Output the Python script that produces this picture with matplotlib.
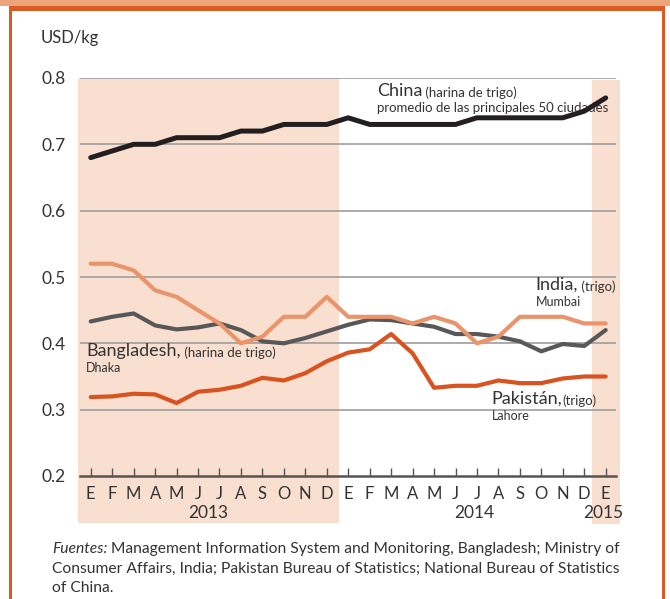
import matplotlib
matplotlib.use('Agg')
import matplotlib.pyplot as plt
from matplotlib.patches import Rectangle

plt.rcParams['font.family'] = ['Lato', 'DejaVu Sans']

# months 2013-01 .. 2015-01
months = ['E', 'F', 'M', 'A', 'M', 'J', 'J', 'A', 'S', 'O', 'N', 'D'] * 2 + ['E']
years = ['2013', '2014', '2015']

china = [0.68, 0.69, 0.70, 0.70, 0.71, 0.71, 0.71, 0.72, 0.72, 0.73, 0.73, 0.73,
         0.74, 0.73, 0.73, 0.73, 0.73, 0.73, 0.74, 0.74, 0.74, 0.74, 0.74, 0.75, 0.77]
india = [0.52, 0.52, 0.51, 0.48, 0.47, 0.45, 0.43, 0.40, 0.41, 0.44, 0.44, 0.47,
         0.44, 0.44, 0.44, 0.43, 0.44, 0.43, 0.40, 0.41, 0.44, 0.44, 0.44, 0.43, 0.43]
bangladesh = [0.433, 0.44, 0.445, 0.427, 0.421, 0.424, 0.43, 0.42, 0.403, 0.40, 0.408, 0.418,
              0.428, 0.436, 0.435, 0.43, 0.425, 0.414, 0.414, 0.41, 0.403, 0.388, 0.399, 0.396, 0.42]
pakistan = [0.319, 0.32, 0.324, 0.323, 0.31, 0.327, 0.33, 0.336, 0.348, 0.344, 0.355, 0.373,
            0.386, 0.391, 0.414, 0.385, 0.333, 0.336, 0.336, 0.344, 0.34, 0.34, 0.347, 0.35, 0.35]

TXT = '#333333'
SHADE = '#F9DFCF'

fig = plt.figure(figsize=(6.7, 5.99), dpi=100)
W, H = 670, 599

# orange frame
fig.patches.append(Rectangle((0, 1 - 6 / H), 1, 6 / H, transform=fig.transFigure,
                             facecolor='#EEA47B', lw=0))
fig.patches.append(Rectangle((9 / W, 1 - 11 / H), 656 / W, 5 / H, transform=fig.transFigure,
                             facecolor='#DC5A24', lw=0))
fig.patches.append(Rectangle((9 / W, 0), 3 / W, 1 - 6 / H, transform=fig.transFigure,
                             facecolor='#DC5A24', lw=0))
fig.patches.append(Rectangle((662 / W, 0), 3 / W, 1 - 6 / H, transform=fig.transFigure,
                             facecolor='#DC5A24', lw=0))

ax = fig.add_axes([80 / W, 1 - 476 / H, 536 / W, 398 / H])
ax.patch.set_alpha(0)
ax.set_xlim(-0.5, 24.48)
ax.set_ylim(0.2, 0.8)

# shaded periods (2013 and Jan 2015)
ax.add_patch(Rectangle((-0.6, 0.129), 12.17, 0.671, facecolor=SHADE, lw=0,
                       clip_on=False, zorder=0))
ax.add_patch(Rectangle((23.36, 0.127), 1.3, 0.67, facecolor=SHADE, lw=0,
                       clip_on=False, zorder=0))

for v in [0.3, 0.4, 0.5, 0.6, 0.7, 0.8]:
    ax.axhline(v, color='#9D9D9D', lw=1.2, zorder=1)

x = list(range(len(months)))
ax.plot(x, bangladesh, color='#58585A', lw=3.0, solid_capstyle='round', zorder=4)
ax.plot(x, india, color='#E9946A', lw=3.0, solid_capstyle='round', zorder=4)
ax.plot(x, pakistan, color='#D8531F', lw=3.0, solid_capstyle='round', zorder=4)
ax.plot(x, china, color='#231F20', lw=3.6, solid_capstyle='round', zorder=5)

for s in ['top', 'right', 'left']:
    ax.spines[s].set_visible(False)
ax.spines['bottom'].set_color('#555555')
ax.spines['bottom'].set_linewidth(1.8)

ax.set_yticks([0.2, 0.3, 0.4, 0.5, 0.6, 0.7, 0.8])
ax.set_yticklabels(['0.2', '0.3', '0.4', '0.5', '0.6', '0.7', '0.8'])
ax.tick_params(axis='y', length=0, pad=10, labelsize=12.5, labelcolor=TXT)
ax.set_xticks(x)
ax.set_xticklabels(months)
ax.tick_params(axis='x', direction='in', length=6, width=1, color='#555555',
               pad=7, labelsize=12, labelcolor=TXT)

year_x = [5.5, 17.86, 23.87]
for xx, yr in zip(year_x, years):
    ax.text(xx, 0.144, yr, ha='center', va='center', fontsize=12.5, color=TXT,
            clip_on=False)

# series labels
def label(x0, y0, big, small, sub):
    t = ax.text(x0, y0, big, fontsize=13, color=TXT, va='center', ha='left', zorder=2)
    ax.annotate(small, xy=(1, 0), xycoords=t, va='bottom', ha='left', fontsize=9.5,
                color=TXT, zorder=2, annotation_clip=False)
    ax.text(x0, y0 - 0.026, sub, fontsize=9.5 if sub.startswith('promedio') else 9,
            color=TXT, va='center', ha='left', zorder=2)

label(13.34, 0.781, 'China', ' (harina de trigo)', 'promedio de las principales 50 ciudades')
label(-0.22, 0.389, 'Bangladesh,', ' (harina de trigo)', 'Dhaka')
label(20.74, 0.488, 'India,', ' (trigo)', 'Mumbai')
label(18.69, 0.316, 'Pakistán,', '(trigo)', 'Lahore')

fig.text(41 / W, 1 - 38 / H, 'USD/kg', fontsize=12, color=TXT, va='center', ha='left')

# sources
FS = 11.25
ft = fig.text(52 / W, 1 - 549 / H, 'Fuentes:', fontsize=FS, style='italic', color=TXT,
              va='center', ha='left')
ax.annotate(' Management Information System and Monitoring, Bangladesh; Ministry of',
            xy=(1, 0.5), xycoords=ft, va='center', ha='left', fontsize=FS, color=TXT,
            annotation_clip=False)
fig.text(52 / W, 1 - 569 / H, 'Consumer Affairs, India; Pakistan Bureau of Statistics; '
         'National Bureau of Statistics', fontsize=FS, color=TXT, va='center', ha='left')
fig.text(52 / W, 1 - 588 / H, 'of China.', fontsize=FS, color=TXT, va='center', ha='left')

fig.savefig('out.png', dpi=100)
